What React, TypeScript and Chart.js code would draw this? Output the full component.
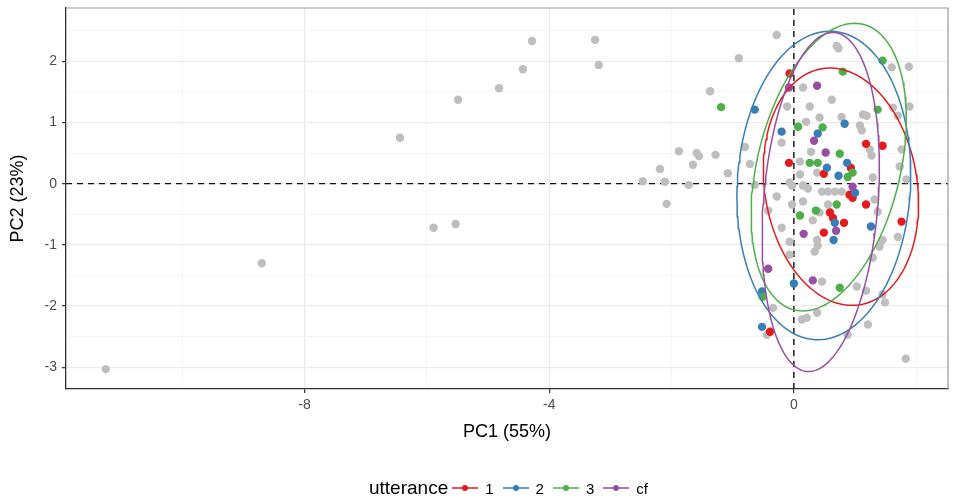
import React, { useEffect, useRef } from "react";
import { Chart, registerables } from "chart.js";

Chart.register(...registerables);

// Axis limits of the score plot
const X_MIN = -11.9;
const X_MAX = 2.52;
const Y_MIN = -3.355;
const Y_MAX = 2.87;

// Observations without an utterance group (PC1, PC2)
const otherPoints: [number, number][] = [
  [-11.25, -3.03], [-8.70, -1.30], [-6.44, 0.75], [-5.89, -0.72], [-5.53, -0.66],
  [-5.49, 1.37], [-4.82, 1.56], [-4.43, 1.87], [-4.28, 2.33], [-3.25, 2.35],
  [-3.19, 1.94], [-0.28, 2.43], [-0.90, 2.05], [-1.37, 1.51], [-1.88, 0.53],
  [-1.59, 0.50], [-1.55, 0.45], [-1.28, 0.47], [-1.65, 0.31], [-2.19, 0.24],
  [-1.08, 0.17], [-2.47, 0.04], [-2.11, 0.03], [-1.72, -0.02], [-0.80, 0.60],
  [-0.72, 0.32], [-2.08, -0.33],
  [0.70, 2.25], [0.73, 2.21], [1.60, 1.90], [1.88, 1.91], [0.15, 1.57],
  [0.62, 1.37], [-0.11, 1.26], [0.26, 1.26], [1.62, 1.24], [1.89, 1.26],
  [1.70, 1.11], [0.42, 1.08], [0.78, 1.09], [1.13, 1.13], [1.19, 1.11],
  [0.20, 1.01], [1.08, 0.95], [1.11, 0.87], [-0.20, 0.67], [1.24, 0.56],
  [1.27, 0.46], [0.28, 0.52], [1.76, 0.56], [0.10, 0.36], [1.73, 0.28],
  [0.10, 0.15], [0.38, 0.18], [1.29, 0.10], [-0.07, 0.02], [1.84, 0.07],
  [-0.64, -0.02], [-0.03, -0.03], [0.15, -0.03], [0.23, -0.08], [0.46, -0.13],
  [0.56, -0.13], [0.67, -0.13], [0.78, -0.13], [-0.28, -0.21], [-0.03, -0.34],
  [0.15, -0.29], [0.56, -0.34], [1.32, -0.26], [1.37, -0.46], [0.42, -0.47],
  [0.31, -0.60], [-0.42, -0.44], [-0.20, -0.72], [1.70, -0.87], [1.45, -0.92],
  [1.40, -1.03], [0.38, -0.92], [0.39, -1.01], [0.34, -1.11], [-0.07, -0.95],
  [-0.07, -1.16], [1.29, -1.21], [0.46, -1.60], [1.03, -1.68], [1.18, -1.75],
  [1.45, -1.81], [1.49, -1.94], [-0.34, -2.03], [0.13, -2.22], [0.21, -2.19],
  [0.38, -2.11], [1.21, -2.30], [0.88, -2.47], [-0.44, -2.47], [1.83, -2.86],
];

// Utterance 1
const utterance1: [number, number][] = [
  [-0.07, 1.80], [1.18, 0.65], [1.45, 0.62], [-0.08, 0.34], [0.93, 0.26],
  [0.49, 0.16], [0.91, -0.18], [0.96, -0.23], [1.18, -0.34], [0.59, -0.47],
  [0.64, -0.56], [0.82, -0.64], [1.76, -0.62], [0.49, -0.80], [-0.39, -2.42],
];

// Utterance 2
const utterance2: [number, number][] = [
  [-0.64, 1.21], [0.83, 0.98], [-0.20, 0.85], [0.39, 0.82], [0.87, 0.34],
  [0.54, 0.26], [0.73, 0.13], [1.00, -0.15], [0.67, -0.64], [1.26, -0.70],
  [0.65, -0.92], [0.00, -1.63], [-0.52, -1.76], [-0.52, -2.34],
];

// Utterance 3
const utterance3: [number, number][] = [
  [-1.19, 1.25], [1.45, 2.01], [0.80, 1.83], [1.37, 1.21], [0.07, 0.93],
  [0.47, 0.92], [0.75, 0.49], [0.26, 0.34], [0.39, 0.34], [0.96, 0.18],
  [0.88, 0.11], [0.10, -0.52], [0.36, -0.44], [0.70, -0.34], [0.75, -1.70],
  [-0.51, -1.85],
];

// Utterance cf
const utteranceCf: [number, number][] = [
  [0.38, 1.60], [-0.08, 1.57], [0.33, 0.70], [0.52, 0.51], [0.96, -0.05],
  [0.16, -0.82], [0.69, -0.77], [-0.42, -1.39], [0.31, -1.58],
];

// Confidence ellipses: centre x, centre y, semi-major, semi-minor, tilt (deg)
const ellipse1 = [0.77, -0.05, 1.953, 1.247, -9];
const ellipse2 = [0.49, -0.03, 2.523, 1.416, 3.3];
const ellipse3 = [0.57, 0.27, 2.4, 1.17, 13.5];
const ellipseCf = [0.44, -0.3, 2.778, 0.935, 4.6];

const groupLabels = ["1", "2", "3", "cf"];
const groupColors = ["#E41A1C", "#377EB8", "#4DAF4A", "#984EA3"];
const otherColor = "#BEBEBE";

const FONT = "'Liberation Sans', Arial, Helvetica, sans-serif";

function toXY(pts: [number, number][]) {
  return pts.map(([x, y]) => ({ x, y }));
}

function ellipsePath(e: number[]) {
  const [cx, cy, a, b, deg] = e;
  const th = (deg * Math.PI) / 180;
  const out: { x: number; y: number }[] = [];
  const n = 160;
  for (let i = 0; i <= n; i++) {
    const t = (i / n) * 2 * Math.PI;
    const u = a * Math.cos(t);
    const v = b * Math.sin(t);
    out.push({
      x: cx + u * Math.sin(th) + v * Math.cos(th),
      y: cy + u * Math.cos(th) - v * Math.sin(th),
    });
  }
  return out;
}

// Grey frame on the top and right of the panel
const panelFrame = {
  id: "panelFrame",
  afterDraw(chart: any) {
    const { ctx, chartArea: a } = chart;
    ctx.save();
    ctx.strokeStyle = "#9a9a9a";
    ctx.lineWidth = 1.2;
    ctx.beginPath();
    ctx.moveTo(a.left, a.top);
    ctx.lineTo(a.right, a.top);
    ctx.lineTo(a.right, a.bottom);
    ctx.stroke();
    ctx.restore();
  },
};

export default function App() {
  const canvasRef = useRef<HTMLCanvasElement | null>(null);

  useEffect(() => {
    if (!canvasRef.current) return;
    const groups = [utterance1, utterance2, utterance3, utteranceCf];
    const ellipses = [ellipse1, ellipse2, ellipse3, ellipseCf];

    const datasets: any[] = [
      {
        label: "h0",
        data: [{ x: X_MIN, y: 0 }, { x: X_MAX, y: 0 }],
        showLine: true,
        borderColor: "#111",
        borderWidth: 1.4,
        borderDash: [6, 5],
        pointRadius: 0,
        order: 50,
      },
      {
        label: "v0",
        data: [{ x: 0, y: Y_MIN }, { x: 0, y: Y_MAX }],
        showLine: true,
        borderColor: "#111",
        borderWidth: 1.4,
        borderDash: [6, 5],
        pointRadius: 0,
        order: 49,
      },
      {
        label: "other",
        data: toXY(otherPoints),
        pointRadius: 4.2,
        pointBackgroundColor: otherColor,
        pointBorderWidth: 0,
        showLine: false,
        order: 40,
      },
    ];
    groups.forEach((g, i) => {
      datasets.push({
        label: groupLabels[i],
        data: toXY(g),
        pointRadius: 4.2,
        pointBackgroundColor: groupColors[i],
        pointBorderWidth: 0,
        showLine: false,
        order: 30 - i,
      });
    });
    ellipses.forEach((e, i) => {
      datasets.push({
        label: "ellipse " + groupLabels[i],
        data: ellipsePath(e),
        showLine: true,
        borderColor: groupColors[i],
        borderWidth: 1.5,
        pointRadius: 0,
        tension: 0,
        fill: false,
        order: 10 - i,
      });
    });

    const major = "#EBEBEB";
    const minor = "#F3F3F3";

    const chart = new Chart(canvasRef.current, {
      type: "scatter",
      data: { datasets },
      plugins: [panelFrame],
      options: {
        animation: false,
        responsive: false,
        layout: { padding: { top: 8, right: 9, bottom: 50, left: 0 } },
        plugins: { legend: { display: false }, tooltip: { enabled: false } },
        scales: {
          x: {
            type: "linear",
            min: X_MIN,
            max: X_MAX,
            afterFit: (s: any) => {
              s.height = 59;
              s.paddingLeft = 0;
              s.paddingRight = 0;
            },
            ticks: {
              stepSize: 2,
              includeBounds: false,
              autoSkip: false,
              maxRotation: 0,
              padding: 4,
              color: "#4D4D4D",
              font: { family: FONT, size: 14 },
              callback: (v: any) => (Number(v) % 4 === 0 ? String(v) : ""),
            },
            grid: {
              color: (c: any) => (c.tick && c.tick.value % 4 === 0 ? major : minor),
              lineWidth: (c: any) => (c.tick && c.tick.value % 4 === 0 ? 1.3 : 0.8),
              tickColor: (c: any) => (c.tick && c.tick.value % 4 === 0 ? "#333" : "rgba(0,0,0,0)"),
              tickLength: 4,
              tickWidth: 1.2,
            },
            border: { display: true, color: "#333", width: 1.3 },
            title: {
              display: true,
              text: "PC1 (55%)",
              color: "#000",
              font: { family: FONT, size: 18 },
              padding: { top: 0, bottom: 5 },
            },
          },
          y: {
            type: "linear",
            min: Y_MIN,
            max: Y_MAX,
            afterFit: (s: any) => {
              s.width = 66;
              s.paddingTop = 0;
              s.paddingBottom = 0;
            },
            ticks: {
              stepSize: 0.5,
              includeBounds: false,
              autoSkip: false,
              padding: 5,
              color: "#4D4D4D",
              font: { family: FONT, size: 14 },
              callback: (v: any) => (Number.isInteger(Number(v)) ? String(v) : ""),
            },
            grid: {
              color: (c: any) => (c.tick && Number.isInteger(c.tick.value) ? major : minor),
              lineWidth: (c: any) => (c.tick && Number.isInteger(c.tick.value) ? 1.3 : 0.8),
              tickColor: (c: any) => (c.tick && Number.isInteger(c.tick.value) ? "#333" : "rgba(0,0,0,0)"),
              tickLength: 4,
              tickWidth: 1.2,
            },
            border: { display: true, color: "#333", width: 1.3 },
            title: {
              display: true,
              text: "PC2 (23%)",
              color: "#000",
              font: { family: FONT, size: 18 },
              padding: { top: 7, bottom: 0 },
            },
          },
        },
      },
    });
    return () => chart.destroy();
  }, []);

  return (
    <div style={{ position: "fixed", left: 0, top: 0, width: 957, height: 498, background: "#fff" }}>
      <canvas ref={canvasRef} width={957} height={498} style={{ display: "block" }} />
      <div
        style={{
          position: "absolute",
          left: 369,
          top: 477,
          height: 22,
          display: "flex",
          alignItems: "center",
          fontFamily: FONT,
          color: "#000",
        }}
      >
        <span style={{ fontSize: 19, marginRight: 4 }}>utterance</span>
        {groupLabels.map((lab, i) => (
          <span key={lab} style={{ display: "flex", alignItems: "center", marginRight: 9 }}>
            <svg width={26} height={12} style={{ display: "block" }}>
              <line x1={0} y1={6} x2={26} y2={6} stroke={groupColors[i]} strokeWidth={1.5} />
              <circle cx={13} cy={6} r={3} fill={groupColors[i]} />
            </svg>
            <span style={{ fontSize: 15, marginLeft: 7 }}>{lab}</span>
          </span>
        ))}
      </div>
    </div>
  );
}
